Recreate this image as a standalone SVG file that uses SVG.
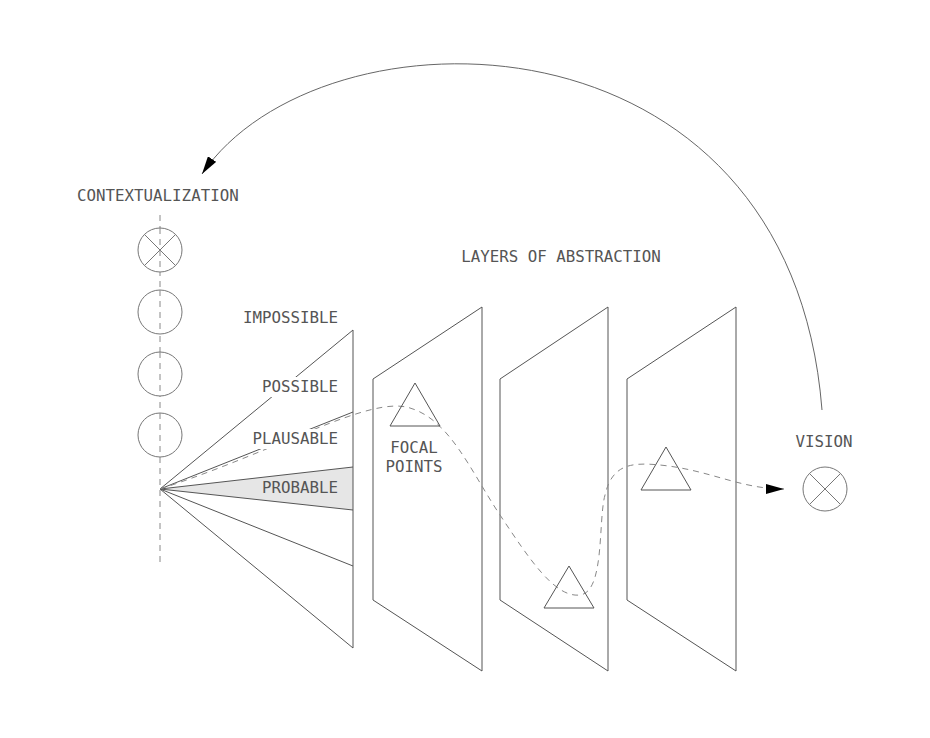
<svg xmlns="http://www.w3.org/2000/svg" width="930" height="738" viewBox="0 0 930 738">
<style>
.t{font-family:"DejaVu Sans Mono","Liberation Mono",monospace;font-size:15.8px;fill:#555}
.ln{stroke:#555;stroke-width:1;fill:none}
.c{stroke:#777;stroke-width:1;fill:#fff}
.x{stroke:#777;stroke-width:1}
.dash{stroke:#888;stroke-width:1;fill:none;stroke-dasharray:6 5}
.bg{fill:#fff}
</style>
<defs>
<marker id="ah" viewBox="0 0 18 10" refX="18" refY="5" markerWidth="18" markerHeight="10" markerUnits="userSpaceOnUse" orient="auto">
<path d="M0,0 L18,5 L0,10 Z" fill="#000"/>
</marker>
</defs>
<rect width="930" height="738" fill="#fff"/>

<g id="contextualization">
<line x1="160" y1="215" x2="160" y2="565" class="dash" stroke-dasharray="6 4"/>
<g id="ctx-circle-1">
<circle cx="160" cy="250" r="22" class="c"/>
<line x1="144.4" y1="234.4" x2="175.6" y2="265.6" class="x"/>
<line x1="175.6" y1="234.4" x2="144.4" y2="265.6" class="x"/>
<line x1="160" y1="228" x2="160" y2="272" class="dash" stroke-dasharray="6 4"/>
</g>
<g id="ctx-circle-2"><circle cx="160" cy="312" r="22" class="c"/><line x1="160" y1="290" x2="160" y2="334" class="dash" stroke-dasharray="6 4"/></g>
<g id="ctx-circle-3"><circle cx="160" cy="374" r="22" class="c"/><line x1="160" y1="352" x2="160" y2="396" class="dash" stroke-dasharray="6 4"/></g>
<g id="ctx-circle-4"><circle cx="160" cy="435" r="22" class="c"/><line x1="160" y1="413" x2="160" y2="457" class="dash" stroke-dasharray="6 4"/></g>
<text class="t" x="77" y="201">CONTEXTUALIZATION</text>
</g>

<g id="fan">
<polygon points="160,489 353,467 353,510" fill="#e6e6e6"/>
<line x1="160" y1="489" x2="353" y2="330" class="ln"/>
<line x1="160" y1="489" x2="353" y2="412" class="ln"/>
<line x1="160" y1="489" x2="353" y2="467" class="ln"/>
<line x1="160" y1="489" x2="353" y2="510" class="ln"/>
<line x1="160" y1="489" x2="353" y2="566" class="ln"/>
<line x1="160" y1="489" x2="353" y2="648" class="ln"/>
<line x1="353" y1="330" x2="353" y2="648" class="ln"/>
</g>

<g id="plane-1"><polygon points="373,379 482,307 482,671 373,600" class="ln"/></g>
<g id="plane-2"><polygon points="500,379 608,307 608,671 500,600" class="ln"/></g>
<g id="plane-3"><polygon points="627,379 736,307 736,671 627,600" class="ln"/></g>

<g id="connectors">
<path d="M160,489 C280,450 370,395 410,408 C450,420 470,470 500,515 C530,560 555,598 580,595 C605,592 598,520 605,495 C612,465 630,462 660,465 C710,470 740,489 784,489" class="dash" marker-end="url(#ah)"/>
<path d="M822,410 C790,0 320,0 202,174" fill="none" stroke="#666" stroke-width="1" marker-end="url(#ah)"/>
</g>

<g id="labels">
<rect x="240" y="308" width="100" height="20" class="bg"/>
<text class="t" x="338" y="323" text-anchor="end">IMPOSSIBLE</text>
<rect x="260" y="377" width="80" height="20" class="bg"/>
<text class="t" x="338" y="392" text-anchor="end">POSSIBLE</text>
<rect x="248" y="429" width="92" height="20" class="bg"/>
<text class="t" x="338" y="444" text-anchor="end">PLAUSABLE</text>
<text class="t" x="338" y="493" text-anchor="end">PROBABLE</text>
</g>

<g id="focal-1"><polygon points="415,383 440,426 390,426" class="ln" stroke="#777"/></g>
<g id="focal-2"><polygon points="569,566 594,608 544,608" class="ln" stroke="#777"/></g>
<g id="focal-3"><polygon points="666,447 691,490 641,490" class="ln" stroke="#777"/></g>

<text class="t" x="414" y="453" text-anchor="middle">FOCAL</text>
<text class="t" x="414" y="472" text-anchor="middle">POINTS</text>
<text class="t" x="561" y="262" text-anchor="middle">LAYERS OF ABSTRACTION</text>

<g id="vision">
<circle cx="825" cy="489" r="22" class="c"/>
<line x1="809.4" y1="473.4" x2="840.6" y2="504.6" class="x"/>
<line x1="840.6" y1="473.4" x2="809.4" y2="504.6" class="x"/>
<text class="t" x="824" y="447" text-anchor="middle">VISION</text>
</g>
</svg>
